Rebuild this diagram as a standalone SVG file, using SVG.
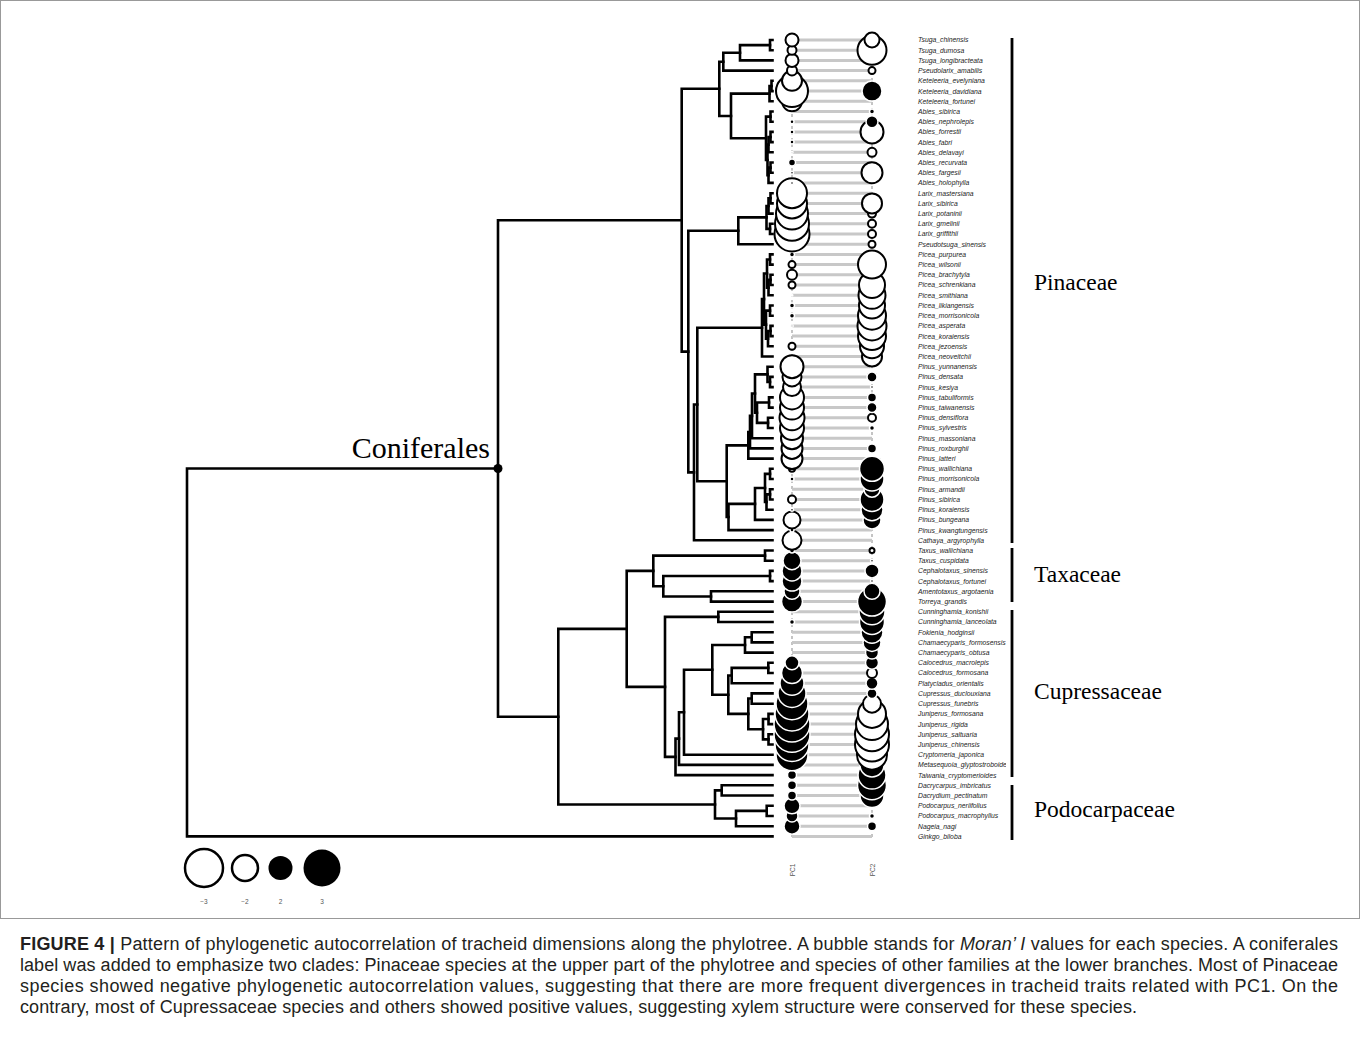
<svg xmlns="http://www.w3.org/2000/svg" width="1360" height="1045" viewBox="0 0 1360 1045">
<style>
.tr{fill:none;stroke:#000;stroke-width:2.6;stroke-linecap:square;stroke-linejoin:miter}
.rl{stroke:#c8c8c8;stroke-width:3}
.col{stroke:#c4c4c4;stroke-width:2;stroke-dasharray:3 3}
.o{fill:#fff;stroke:#000;stroke-width:2}
.f{fill:#000;stroke:#fff;stroke-width:1.5}
.sp{font-family:"Liberation Sans",Arial,sans-serif;font-style:italic;font-size:6.8px;fill:#222}
.cl{font-family:"Liberation Serif","Times New Roman",serif;font-size:23.5px;fill:#000}
.bar{stroke:#000;stroke-width:2.8}
.tiny{font-family:"Liberation Sans",Arial,sans-serif;font-size:6.5px;fill:#555}
.cap{font-family:"Liberation Sans",Arial,sans-serif;font-size:18px;fill:#231f20}
</style>
<defs>
<clipPath id="lc"><rect x="900" y="0" width="106" height="900"/></clipPath>
</defs>
<rect x="0.5" y="0.5" width="1359" height="918" fill="#fff" stroke="#999" stroke-width="1"/>

<g id="connectors">
<path class="tr" d="M772.5 40 H770 V50.2 H772.5"/>
<path class="tr" d="M770 45.1 H740 V60.4 H772.5"/>
<path class="tr" d="M740 52.75 H723.3 V70.6 H772.5"/>
<path class="tr" d="M772.5 80.8 H771.5 V91.1 H772.5"/>
<path class="tr" d="M771.5 85.95 H769.5 V101.3 H772.5"/>
<path class="tr" d="M772.5 111.5 H770.5 V121.7 H772.5"/>
<path class="tr" d="M772.5 131.9 H770.5 V142.1 H772.5"/>
<path class="tr" d="M772.5 162.5 H770.5 V172.7 H772.5"/>
<path class="tr" d="M770.5 137 H768.5 V152.3 H772.5"/>
<path class="tr" d="M770.5 167.6 H768.5 V182.9 H772.5"/>
<path class="tr" d="M768.5 144.65 H767.5 V175.25 H768.5"/>
<path class="tr" d="M770.5 116.6 H766 V159.95 H767.5"/>
<path class="tr" d="M769.5 93.6 H731 V138.3 H766"/>
<path class="tr" d="M723.3 61.7 H719.3 V115.95 H731"/>
<path class="tr" d="M772.5 193.2 H770.5 V203.4 H772.5"/>
<path class="tr" d="M770.5 198.3 H768.5 V213.6 H772.5"/>
<path class="tr" d="M772.5 223.8 H770 V234 H772.5"/>
<path class="tr" d="M768.5 205.95 H766.5 V228.9 H770"/>
<path class="tr" d="M766.5 217.4 H738.3 V244.2 H772.5"/>
<path class="tr" d="M772.5 254.4 H770 V264.6 H772.5"/>
<path class="tr" d="M772.5 274.8 H770.5 V285 H772.5"/>
<path class="tr" d="M770.5 279.9 H768.5 V295.3 H772.5"/>
<path class="tr" d="M770 259.5 H767 V287.6 H768.5"/>
<path class="tr" d="M772.5 305.5 H770 V315.7 H772.5"/>
<path class="tr" d="M772.5 325.9 H770.5 V336.1 H772.5"/>
<path class="tr" d="M770.5 331 H768 V346.3 H772.5"/>
<path class="tr" d="M770 310.6 H766 V338.65 H768"/>
<path class="tr" d="M767 273.55 H764 V324.6 H766"/>
<path class="tr" d="M764 299.1 H762 V356.5 H772.5"/>
<path class="tr" d="M772.5 376.9 H770 V387.1 H772.5"/>
<path class="tr" d="M772.5 366.7 H767.5 V382 H770"/>
<path class="tr" d="M772.5 397.4 H769 V407.6 H772.5"/>
<path class="tr" d="M772.5 417.8 H768 V428 H772.5"/>
<path class="tr" d="M769 402.5 H757 V422.9 H768"/>
<path class="tr" d="M767.5 374.35 H755 V412.7 H757"/>
<path class="tr" d="M755 393.5 H752 V438.2 H772.5"/>
<path class="tr" d="M752 415.85 H750 V448.4 H772.5"/>
<path class="tr" d="M750 432.1 H748.3 V458.6 H772.5"/>
<path class="tr" d="M772.5 468.8 H770 V479 H772.5"/>
<path class="tr" d="M772.5 489.2 H770 V499.5 H772.5"/>
<path class="tr" d="M770 494.35 H766.5 V509.7 H772.5"/>
<path class="tr" d="M770 473.9 H765 V502 H766.5"/>
<path class="tr" d="M765 487.95 H755 V519.9 H772.5"/>
<path class="tr" d="M755 503.9 H728.5 V530.1 H772.5"/>
<path class="tr" d="M748.3 445.35 H726.7 V517 H728.5"/>
<path class="tr" d="M762 327.8 H697.3 V481.2 H726.7"/>
<path class="tr" d="M697.3 404.5 H694 V540.3 H772.5"/>
<path class="tr" d="M738.3 230.8 H688.3 V472.4 H694"/>
<path class="tr" d="M719.3 88.8 H681.7 V351.6 H688.3"/>
<path class="tr" d="M772.5 550.5 H765 V560.7 H772.5"/>
<path class="tr" d="M772.5 570.9 H770 V581.1 H772.5"/>
<path class="tr" d="M772.5 591.3 H711 V601.6 H772.5"/>
<path class="tr" d="M770 576 H663.3 V596.45 H711"/>
<path class="tr" d="M765 555.6 H653.3 V586.2 H663.3"/>
<path class="tr" d="M772.5 611.8 H718.3 V622 H772.5"/>
<path class="tr" d="M772.5 632.2 H751.7 V642.4 H772.5"/>
<path class="tr" d="M751.7 637.3 H745 V652.6 H772.5"/>
<path class="tr" d="M772.5 662.8 H768.3 V673 H772.5"/>
<path class="tr" d="M768.3 667.9 H731.7 V683.2 H772.5"/>
<path class="tr" d="M772.5 693.4 H751.7 V703.7 H772.5"/>
<path class="tr" d="M772.5 713.9 H768.5 V724.1 H772.5"/>
<path class="tr" d="M772.5 734.3 H768.5 V744.5 H772.5"/>
<path class="tr" d="M768.5 719 H763 V739.4 H768.5"/>
<path class="tr" d="M751.7 698.55 H748.3 V729.2 H763"/>
<path class="tr" d="M731.7 675.55 H728.3 V713.9 H748.3"/>
<path class="tr" d="M745 644.95 H712.3 V694.7 H728.3"/>
<path class="tr" d="M712.3 669.8 H684 V754.7 H772.5"/>
<path class="tr" d="M684 712.25 H679 V764.9 H772.5"/>
<path class="tr" d="M679 738.6 H675.5 V775.1 H772.5"/>
<path class="tr" d="M718.3 616.9 H665 V756.85 H675.5"/>
<path class="tr" d="M653.3 570.9 H626.7 V686.9 H665"/>
<path class="tr" d="M772.5 785.3 H721.7 V795.5 H772.5"/>
<path class="tr" d="M772.5 805.8 H766.7 V816 H772.5"/>
<path class="tr" d="M766.7 810.9 H736 V826.2 H772.5"/>
<path class="tr" d="M721.7 790.4 H715 V818.55 H736"/>
<path class="tr" d="M626.7 628.9 H558.3 V804.5 H715"/>
<path class="tr" d="M681.7 220.2 H498 V716.7 H558.3"/>
<path class="tr" d="M498 468.45 H187 V836.4 H772.5"/>
</g>

<g id="node-coniferales">
<circle cx="498" cy="468.45" r="4.5" fill="#000"/>
<text x="490" y="458" font-family="'Liberation Serif','Times New Roman',serif" font-size="30" text-anchor="end">Coniferales</text>
</g>

<g id="row-lines">
<line class="col" x1="792" y1="36" x2="792" y2="840"/>
<line class="col" x1="872" y1="36" x2="872" y2="840"/>
<path class="rl" d="M792 40H872M792 50.2H872M792 60.4H872M792 70.6H872M792 80.8H872M792 91.1H872M792 101.3H872M792 111.5H872M792 121.7H872M792 131.9H872M792 142.1H872M792 152.3H872M792 162.5H872M792 172.7H872M792 182.9H872M792 193.2H872M792 203.4H872M792 213.6H872M792 223.8H872M792 234H872M792 244.2H872M792 254.4H872M792 264.6H872M792 274.8H872M792 285H872M792 295.3H872M792 305.5H872M792 315.7H872M792 325.9H872M792 336.1H872M792 346.3H872M792 356.5H872M792 366.7H872M792 376.9H872M792 387.1H872M792 397.4H872M792 407.6H872M792 417.8H872M792 428H872M792 438.2H872M792 448.4H872M792 458.6H872M792 468.8H872M792 479H872M792 489.2H872M792 499.5H872M792 509.7H872M792 519.9H872M792 530.1H872M792 540.3H872M792 550.5H872M792 560.7H872M792 570.9H872M792 581.1H872M792 591.3H872M792 601.6H872M792 611.8H872M792 622H872M792 632.2H872M792 642.4H872M792 652.6H872M792 662.8H872M792 673H872M792 683.2H872M792 693.4H872M792 703.7H872M792 713.9H872M792 724.1H872M792 734.3H872M792 744.5H872M792 754.7H872M792 764.9H872M792 775.1H872M792 785.3H872M792 795.5H872M792 805.8H872M792 816H872M792 826.2H872M792 836.4H872"/>
</g>

<g id="bubbles-PC1">
<circle class="f" cx="792" cy="826.2" r="8"/>
<circle class="f" cx="792" cy="816" r="6"/>
<circle class="f" cx="792" cy="805.8" r="8"/>
<circle class="f" cx="792" cy="795.5" r="4.5"/>
<circle class="f" cx="792" cy="785.3" r="4.5"/>
<circle class="f" cx="792" cy="775.1" r="4.5"/>
<circle class="f" cx="792" cy="754.7" r="16"/>
<circle class="f" cx="792" cy="744.5" r="17"/>
<circle class="f" cx="792" cy="734.3" r="18"/>
<circle class="f" cx="792" cy="724.1" r="18"/>
<circle class="f" cx="792" cy="713.9" r="17"/>
<circle class="f" cx="792" cy="703.7" r="16"/>
<circle class="f" cx="792" cy="693.4" r="14"/>
<circle class="f" cx="792" cy="683.2" r="12"/>
<circle class="f" cx="792" cy="673" r="10.5"/>
<circle class="f" cx="792" cy="662.8" r="7"/>
<circle class="f" cx="792" cy="622" r="2.5"/>
<circle class="f" cx="792" cy="601.6" r="10.5"/>
<circle class="f" cx="792" cy="591.3" r="8"/>
<circle class="f" cx="792" cy="581.1" r="10"/>
<circle class="f" cx="792" cy="570.9" r="10"/>
<circle class="f" cx="792" cy="560.7" r="9"/>
<circle class="f" cx="792" cy="550.5" r="2.5"/>
<circle class="o" cx="792" cy="540.3" r="9.5"/>
<circle class="f" cx="792" cy="530.1" r="2"/>
<circle class="o" cx="792" cy="519.9" r="8.5"/>
<circle class="f" cx="792" cy="509.7" r="1.5"/>
<circle class="o" cx="792" cy="499.5" r="4"/>
<circle class="f" cx="792" cy="479" r="2"/>
<circle class="o" cx="792" cy="468.8" r="3"/>
<circle class="o" cx="792" cy="458.6" r="10.5"/>
<circle class="o" cx="792" cy="448.4" r="10.5"/>
<circle class="o" cx="792" cy="438.2" r="11"/>
<circle class="o" cx="792" cy="428" r="12"/>
<circle class="o" cx="792" cy="417.8" r="12.5"/>
<circle class="o" cx="792" cy="407.6" r="12"/>
<circle class="o" cx="792" cy="397.4" r="12"/>
<circle class="o" cx="792" cy="387.1" r="9"/>
<circle class="o" cx="792" cy="376.9" r="9.5"/>
<circle class="o" cx="792" cy="366.7" r="11.5"/>
<circle class="o" cx="792" cy="346.3" r="3.5"/>
<circle class="f" cx="792" cy="325.9" r="1.2"/>
<circle class="f" cx="792" cy="315.7" r="2.5"/>
<circle class="f" cx="792" cy="305.5" r="2.5"/>
<circle class="f" cx="792" cy="295.3" r="0.8"/>
<circle class="o" cx="792" cy="285" r="3.5"/>
<circle class="o" cx="792" cy="274.8" r="5"/>
<circle class="o" cx="792" cy="264.6" r="3.5"/>
<circle class="f" cx="792" cy="254.4" r="2.5"/>
<circle class="f" cx="792" cy="244.2" r="2"/>
<circle class="o" cx="792" cy="234" r="17.5"/>
<circle class="o" cx="792" cy="223.8" r="17"/>
<circle class="o" cx="792" cy="213.6" r="16"/>
<circle class="o" cx="792" cy="203.4" r="15"/>
<circle class="o" cx="792" cy="193.2" r="15"/>
<circle class="f" cx="792" cy="182.9" r="1.5"/>
<circle class="f" cx="792" cy="172.7" r="1.5"/>
<circle class="f" cx="792" cy="162.5" r="3.5"/>
<circle class="f" cx="792" cy="152.3" r="1"/>
<circle class="f" cx="792" cy="142.1" r="2"/>
<circle class="f" cx="792" cy="131.9" r="2"/>
<circle class="f" cx="792" cy="121.7" r="2"/>
<circle class="f" cx="792" cy="111.5" r="1"/>
<circle class="o" cx="792" cy="101.3" r="10"/>
<circle class="o" cx="792" cy="91.1" r="16"/>
<circle class="o" cx="792" cy="80.8" r="10"/>
<circle class="o" cx="792" cy="70.6" r="5"/>
<circle class="o" cx="792" cy="60.4" r="6.5"/>
<circle class="o" cx="792" cy="50.2" r="4.5"/>
<circle class="o" cx="792" cy="40" r="6.5"/>
</g>

<g id="bubbles-PC2">
<circle class="f" cx="872" cy="826.2" r="4.5"/>
<circle class="f" cx="872" cy="816" r="2.5"/>
<circle class="f" cx="872" cy="805.8" r="3"/>
<circle class="f" cx="872" cy="795.5" r="12"/>
<circle class="f" cx="872" cy="785.3" r="14.5"/>
<circle class="f" cx="872" cy="775.1" r="14"/>
<circle class="f" cx="872" cy="764.9" r="12"/>
<circle class="o" cx="872" cy="754.7" r="15"/>
<circle class="o" cx="872" cy="744.5" r="17"/>
<circle class="o" cx="872" cy="734.3" r="17"/>
<circle class="o" cx="872" cy="724.1" r="16"/>
<circle class="o" cx="872" cy="713.9" r="14"/>
<circle class="o" cx="872" cy="703.7" r="9"/>
<circle class="f" cx="872" cy="693.4" r="5"/>
<circle class="f" cx="872" cy="683.2" r="6"/>
<circle class="o" cx="872" cy="673" r="5"/>
<circle class="f" cx="872" cy="662.8" r="6.5"/>
<circle class="f" cx="872" cy="652.6" r="6.5"/>
<circle class="f" cx="872" cy="642.4" r="9"/>
<circle class="f" cx="872" cy="632.2" r="11"/>
<circle class="f" cx="872" cy="622" r="12.5"/>
<circle class="f" cx="872" cy="611.8" r="13"/>
<circle class="f" cx="872" cy="601.6" r="14.5"/>
<circle class="f" cx="872" cy="591.3" r="8"/>
<circle class="f" cx="872" cy="581.1" r="1.5"/>
<circle class="f" cx="872" cy="570.9" r="7"/>
<circle class="f" cx="872" cy="560.7" r="1.5"/>
<circle class="o" cx="872" cy="550.5" r="2.5"/>
<circle class="f" cx="872" cy="519.9" r="9"/>
<circle class="f" cx="872" cy="509.7" r="11"/>
<circle class="f" cx="872" cy="499.5" r="12"/>
<circle class="f" cx="872" cy="489.2" r="8"/>
<circle class="f" cx="872" cy="479" r="12"/>
<circle class="f" cx="872" cy="468.8" r="12.5"/>
<circle class="f" cx="872" cy="448.4" r="4.5"/>
<circle class="f" cx="872" cy="428" r="2.5"/>
<circle class="o" cx="872" cy="417.8" r="4"/>
<circle class="f" cx="872" cy="407.6" r="5"/>
<circle class="f" cx="872" cy="397.4" r="4.5"/>
<circle class="f" cx="872" cy="387.1" r="1.5"/>
<circle class="f" cx="872" cy="376.9" r="5"/>
<circle class="f" cx="872" cy="366.7" r="1.5"/>
<circle class="o" cx="872" cy="356.5" r="10"/>
<circle class="o" cx="872" cy="346.3" r="12"/>
<circle class="o" cx="872" cy="336.1" r="14"/>
<circle class="o" cx="872" cy="325.9" r="14.5"/>
<circle class="o" cx="872" cy="315.7" r="14"/>
<circle class="o" cx="872" cy="305.5" r="13"/>
<circle class="o" cx="872" cy="295.3" r="13.5"/>
<circle class="o" cx="872" cy="285" r="13"/>
<circle class="o" cx="872" cy="264.6" r="14"/>
<circle class="o" cx="872" cy="244.2" r="3.5"/>
<circle class="o" cx="872" cy="234" r="4"/>
<circle class="o" cx="872" cy="223.8" r="4"/>
<circle class="o" cx="872" cy="213.6" r="4"/>
<circle class="o" cx="872" cy="203.4" r="10"/>
<circle class="o" cx="872" cy="172.7" r="10.5"/>
<circle class="o" cx="872" cy="152.3" r="4.5"/>
<circle class="o" cx="872" cy="131.9" r="11.5"/>
<circle class="f" cx="872" cy="121.7" r="6"/>
<circle class="f" cx="872" cy="111.5" r="2.5"/>
<circle class="f" cx="872" cy="91.1" r="10"/>
<circle class="o" cx="872" cy="70.6" r="3.5"/>
<circle class="o" cx="872" cy="50.2" r="14.5"/>
<circle class="o" cx="872" cy="40" r="7.5"/>
</g>

<g id="tips" clip-path="url(#lc)">
<g id="tip-Tsuga_chinensis"><text class="sp" x="918" y="42.4">Tsuga_chinensis</text></g>
<g id="tip-Tsuga_dumosa"><text class="sp" x="918" y="52.6">Tsuga_dumosa</text></g>
<g id="tip-Tsuga_longibracteata"><text class="sp" x="918" y="62.8">Tsuga_longibracteata</text></g>
<g id="tip-Pseudolarix_amabilis"><text class="sp" x="918" y="73">Pseudolarix_amabilis</text></g>
<g id="tip-Keteleeria_evelyniana"><text class="sp" x="918" y="83.2">Keteleeria_evelyniana</text></g>
<g id="tip-Keteleeria_davidiana"><text class="sp" x="918" y="93.5">Keteleeria_davidiana</text></g>
<g id="tip-Keteleeria_fortunei"><text class="sp" x="918" y="103.7">Keteleeria_fortunei</text></g>
<g id="tip-Abies_sibirica"><text class="sp" x="918" y="113.9">Abies_sibirica</text></g>
<g id="tip-Abies_nephrolepis"><text class="sp" x="918" y="124.1">Abies_nephrolepis</text></g>
<g id="tip-Abies_forrestii"><text class="sp" x="918" y="134.3">Abies_forrestii</text></g>
<g id="tip-Abies_fabri"><text class="sp" x="918" y="144.5">Abies_fabri</text></g>
<g id="tip-Abies_delavayi"><text class="sp" x="918" y="154.7">Abies_delavayi</text></g>
<g id="tip-Abies_recurvata"><text class="sp" x="918" y="164.9">Abies_recurvata</text></g>
<g id="tip-Abies_fargesii"><text class="sp" x="918" y="175.1">Abies_fargesii</text></g>
<g id="tip-Abies_holophylla"><text class="sp" x="918" y="185.3">Abies_holophylla</text></g>
<g id="tip-Larix_mastersiana"><text class="sp" x="918" y="195.6">Larix_mastersiana</text></g>
<g id="tip-Larix_sibirica"><text class="sp" x="918" y="205.8">Larix_sibirica</text></g>
<g id="tip-Larix_potaninii"><text class="sp" x="918" y="216">Larix_potaninii</text></g>
<g id="tip-Larix_gmelinii"><text class="sp" x="918" y="226.2">Larix_gmelinii</text></g>
<g id="tip-Larix_griffithii"><text class="sp" x="918" y="236.4">Larix_griffithii</text></g>
<g id="tip-Pseudotsuga_sinensis"><text class="sp" x="918" y="246.6">Pseudotsuga_sinensis</text></g>
<g id="tip-Picea_purpurea"><text class="sp" x="918" y="256.8">Picea_purpurea</text></g>
<g id="tip-Picea_wilsonii"><text class="sp" x="918" y="267">Picea_wilsonii</text></g>
<g id="tip-Picea_brachytyla"><text class="sp" x="918" y="277.2">Picea_brachytyla</text></g>
<g id="tip-Picea_schrenkiana"><text class="sp" x="918" y="287.4">Picea_schrenkiana</text></g>
<g id="tip-Picea_smithiana"><text class="sp" x="918" y="297.7">Picea_smithiana</text></g>
<g id="tip-Picea_likiangensis"><text class="sp" x="918" y="307.9">Picea_likiangensis</text></g>
<g id="tip-Picea_morrisonicola"><text class="sp" x="918" y="318.1">Picea_morrisonicola</text></g>
<g id="tip-Picea_asperata"><text class="sp" x="918" y="328.3">Picea_asperata</text></g>
<g id="tip-Picea_koraiensis"><text class="sp" x="918" y="338.5">Picea_koraiensis</text></g>
<g id="tip-Picea_jezoensis"><text class="sp" x="918" y="348.7">Picea_jezoensis</text></g>
<g id="tip-Picea_neoveitchii"><text class="sp" x="918" y="358.9">Picea_neoveitchii</text></g>
<g id="tip-Pinus_yunnanensis"><text class="sp" x="918" y="369.1">Pinus_yunnanensis</text></g>
<g id="tip-Pinus_densata"><text class="sp" x="918" y="379.3">Pinus_densata</text></g>
<g id="tip-Pinus_kesiya"><text class="sp" x="918" y="389.5">Pinus_kesiya</text></g>
<g id="tip-Pinus_tabuliformis"><text class="sp" x="918" y="399.8">Pinus_tabuliformis</text></g>
<g id="tip-Pinus_taiwanensis"><text class="sp" x="918" y="410">Pinus_taiwanensis</text></g>
<g id="tip-Pinus_densiflora"><text class="sp" x="918" y="420.2">Pinus_densiflora</text></g>
<g id="tip-Pinus_sylvestris"><text class="sp" x="918" y="430.4">Pinus_sylvestris</text></g>
<g id="tip-Pinus_massoniana"><text class="sp" x="918" y="440.6">Pinus_massoniana</text></g>
<g id="tip-Pinus_roxburghii"><text class="sp" x="918" y="450.8">Pinus_roxburghii</text></g>
<g id="tip-Pinus_latteri"><text class="sp" x="918" y="461">Pinus_latteri</text></g>
<g id="tip-Pinus_wallichiana"><text class="sp" x="918" y="471.2">Pinus_wallichiana</text></g>
<g id="tip-Pinus_morrisonicola"><text class="sp" x="918" y="481.4">Pinus_morrisonicola</text></g>
<g id="tip-Pinus_armandii"><text class="sp" x="918" y="491.6">Pinus_armandii</text></g>
<g id="tip-Pinus_sibirica"><text class="sp" x="918" y="501.9">Pinus_sibirica</text></g>
<g id="tip-Pinus_koraiensis"><text class="sp" x="918" y="512.1">Pinus_koraiensis</text></g>
<g id="tip-Pinus_bungeana"><text class="sp" x="918" y="522.3">Pinus_bungeana</text></g>
<g id="tip-Pinus_kwangtungensis"><text class="sp" x="918" y="532.5">Pinus_kwangtungensis</text></g>
<g id="tip-Cathaya_argyrophylla"><text class="sp" x="918" y="542.7">Cathaya_argyrophylla</text></g>
<g id="tip-Taxus_wallichiana"><text class="sp" x="918" y="552.9">Taxus_wallichiana</text></g>
<g id="tip-Taxus_cuspidata"><text class="sp" x="918" y="563.1">Taxus_cuspidata</text></g>
<g id="tip-Cephalotaxus_sinensis"><text class="sp" x="918" y="573.3">Cephalotaxus_sinensis</text></g>
<g id="tip-Cephalotaxus_fortunei"><text class="sp" x="918" y="583.5">Cephalotaxus_fortunei</text></g>
<g id="tip-Amentotaxus_argotaenia"><text class="sp" x="918" y="593.7">Amentotaxus_argotaenia</text></g>
<g id="tip-Torreya_grandis"><text class="sp" x="918" y="604">Torreya_grandis</text></g>
<g id="tip-Cunninghamia_konishii"><text class="sp" x="918" y="614.2">Cunninghamia_konishii</text></g>
<g id="tip-Cunninghamia_lanceolata"><text class="sp" x="918" y="624.4">Cunninghamia_lanceolata</text></g>
<g id="tip-Fokienia_hodginsii"><text class="sp" x="918" y="634.6">Fokienia_hodginsii</text></g>
<g id="tip-Chamaecyparis_formosensis"><text class="sp" x="918" y="644.8">Chamaecyparis_formosensis</text></g>
<g id="tip-Chamaecyparis_obtusa"><text class="sp" x="918" y="655">Chamaecyparis_obtusa</text></g>
<g id="tip-Calocedrus_macrolepis"><text class="sp" x="918" y="665.2">Calocedrus_macrolepis</text></g>
<g id="tip-Calocedrus_formosana"><text class="sp" x="918" y="675.4">Calocedrus_formosana</text></g>
<g id="tip-Platycladus_orientalis"><text class="sp" x="918" y="685.6">Platycladus_orientalis</text></g>
<g id="tip-Cupressus_duclouxiana"><text class="sp" x="918" y="695.8">Cupressus_duclouxiana</text></g>
<g id="tip-Cupressus_funebris"><text class="sp" x="918" y="706.1">Cupressus_funebris</text></g>
<g id="tip-Juniperus_formosana"><text class="sp" x="918" y="716.3">Juniperus_formosana</text></g>
<g id="tip-Juniperus_rigida"><text class="sp" x="918" y="726.5">Juniperus_rigida</text></g>
<g id="tip-Juniperus_saltuaria"><text class="sp" x="918" y="736.7">Juniperus_saltuaria</text></g>
<g id="tip-Juniperus_chinensis"><text class="sp" x="918" y="746.9">Juniperus_chinensis</text></g>
<g id="tip-Cryptomeria_japonica"><text class="sp" x="918" y="757.1">Cryptomeria_japonica</text></g>
<g id="tip-Metasequoia_glyptostroboides"><text class="sp" x="918" y="767.3">Metasequoia_glyptostroboides</text></g>
<g id="tip-Taiwania_cryptomerioides"><text class="sp" x="918" y="777.5">Taiwania_cryptomerioides</text></g>
<g id="tip-Dacrycarpus_imbricatus"><text class="sp" x="918" y="787.7">Dacrycarpus_imbricatus</text></g>
<g id="tip-Dacrydium_pectinatum"><text class="sp" x="918" y="797.9">Dacrydium_pectinatum</text></g>
<g id="tip-Podocarpus_neriifolius"><text class="sp" x="918" y="808.2">Podocarpus_neriifolius</text></g>
<g id="tip-Podocarpus_macrophyllus"><text class="sp" x="918" y="818.4">Podocarpus_macrophyllus</text></g>
<g id="tip-Nageia_nagi"><text class="sp" x="918" y="828.6">Nageia_nagi</text></g>
<g id="tip-Ginkgo_biloba"><text class="sp" x="918" y="838.8">Ginkgo_biloba</text></g>
</g>

<g id="clade-Pinaceae"><line class="bar" x1="1012" y1="38" x2="1012" y2="543"/><text class="cl" x="1034" y="290">Pinaceae</text></g>
<g id="clade-Taxaceae"><line class="bar" x1="1012" y1="548" x2="1012" y2="602"/><text class="cl" x="1034" y="582">Taxaceae</text></g>
<g id="clade-Cupressaceae"><line class="bar" x1="1012" y1="610" x2="1012" y2="777"/><text class="cl" x="1034" y="699">Cupressaceae</text></g>
<g id="clade-Podocarpaceae"><line class="bar" x1="1012" y1="785" x2="1012" y2="840"/><text class="cl" x="1034" y="817">Podocarpaceae</text></g>

<g id="axis-labels">
<text class="tiny" transform="translate(794.5 870) rotate(-90)" text-anchor="middle">PC1</text>
<text class="tiny" transform="translate(874.5 870) rotate(-90)" text-anchor="middle">PC2</text>
</g>

<g id="legend">
<circle cx="204" cy="868" r="19" fill="#fff" stroke="#000" stroke-width="2.5"/>
<circle cx="245" cy="868" r="13" fill="#fff" stroke="#000" stroke-width="2.5"/>
<circle cx="280.5" cy="868" r="12" fill="#000"/>
<circle cx="322" cy="868" r="18.5" fill="#000"/>
<text class="tiny" x="204" y="904" text-anchor="middle">−3</text>
<text class="tiny" x="245" y="904" text-anchor="middle">−2</text>
<text class="tiny" x="280.5" y="904" text-anchor="middle">2</text>
<text class="tiny" x="322" y="904" text-anchor="middle">3</text>
</g>

<g id="caption">
<text class="cap" x="20" y="949.5" textLength="1318" lengthAdjust="spacing"><tspan font-weight="bold">FIGURE 4 |</tspan> Pattern of phylogenetic autocorrelation of tracheid dimensions along the phylotree. A bubble stands for <tspan font-style="italic">Moran’ I</tspan> values for each species. A coniferales</text>
<text class="cap" x="20" y="970.5" textLength="1318" lengthAdjust="spacing">label was added to emphasize two clades: Pinaceae species at the upper part of the phylotree and species of other families at the lower branches. Most of Pinaceae</text>
<text class="cap" x="20" y="991.5" textLength="1318" lengthAdjust="spacing">species showed negative phylogenetic autocorrelation values, suggesting that there are more frequent divergences in tracheid traits related with PC1. On the</text>
<text class="cap" x="20" y="1012.5" textLength="1117" lengthAdjust="spacing">contrary, most of Cupressaceae species and others showed positive values, suggesting xylem structure were conserved for these species.</text>
</g>
</svg>
